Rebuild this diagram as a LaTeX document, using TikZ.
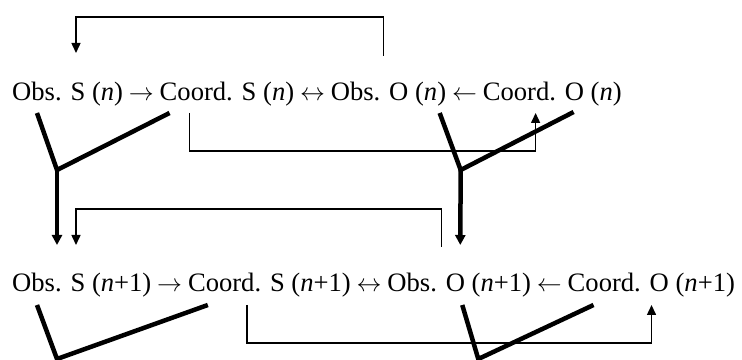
\documentclass[tikz,border=0pt]{standalone}
\usepackage{fontspec}
\setmainfont{Liberation Serif}
\usetikzlibrary{arrows.meta,calc}
\begin{document}
\begin{tikzpicture}[x=1pt,y=1pt,
  term/.style={inner sep=0pt, anchor=base west, font=\fontsize{26.6}{32}\selectfont},
  thinline/.style={line width=1.5pt},
  thickline/.style={line width=4.5pt},
  thinarrow/.style={thinline,-{Triangle[width=9pt,length=10pt]}},
  thickarrow/.style={thickline,-{Triangle[width=10pt,length=10pt]}},
]
\useasboundingbox (0,0) rectangle (742,359);
\clip (0,0) rectangle (742,359);
\def\gap{5.5pt}
% row 1
\node[term] (obsS1) at (12,258) {Obs. S (\textit{n})};
\node[term] (ar11) at ([xshift=\gap]obsS1.base east) {$\rightarrow$};
\node[term] (coordS1) at ([xshift=\gap]ar11.base east) {Coord. S (\textit{n})};
\node[term] (ar12) at ([xshift=\gap]coordS1.base east) {$\leftrightarrow$};
\node[term] (obsO1) at ([xshift=\gap]ar12.base east) {Obs. O (\textit{n})};
\node[term] (ar13) at ([xshift=\gap]obsO1.base east) {$\leftarrow$};
\node[term] (coordO1) at ([xshift=\gap]ar13.base east) {Coord. O (\textit{n})};
% row 2
\node[term] (obsS2) at (12,67) {Obs. S (\textit{n}+1)};
\node[term] (ar21) at ([xshift=\gap]obsS2.base east) {$\rightarrow$};
\node[term] (coordS2) at ([xshift=\gap]ar21.base east) {Coord. S (\textit{n}+1)};
\node[term] (ar22) at ([xshift=\gap]coordS2.base east) {$\leftrightarrow$};
\node[term] (obsO2) at ([xshift=\gap]ar22.base east) {Obs. O (\textit{n}+1)};
\node[term] (ar23) at ([xshift=\gap]obsO2.base east) {$\leftarrow$};
\node[term] (coordO2) at ([xshift=\gap]ar23.base east) {Coord. O (\textit{n}+1)};

% top bracket
\draw[thinarrow] ($(obsO1.base west)+(53,45)$) |- ($(obsS1.base west)+(64,84)$) -- ($(obsS1.base west)+(64,48)$);
% row 1 Y left
\coordinate (j1) at ($(obsS1.base west)+(45,-69)$);
\draw[thickline] ($(obsS1.base west)+(25,-12)$) -- (j1) -- ($(coordS1.base west)+(10,-12)$);
\draw[thickarrow] (j1) -- ($(obsS2.base west)+(45,47)$);
% row 1 thin
\draw[thinarrow] ($(coordS1.base west)+(30,-12)$) |- ($(coordO1.base west)+(53,-50)$) -- ($(coordO1.base west)+(53,-12)$);
% row 1 Y right
\coordinate (j2) at ($(obsO1.base west)+(130,-69)$);
\draw[thickline] ($(obsO1.base west)+(109,-12)$) -- (j2) -- ($(coordO1.base west)+(91,-11)$);
\draw[thickarrow] (j2) -- ($(obsO2.base west)+(73,47)$);
% middle bracket
\draw[thinarrow] ($(obsO2.base west)+(54,45)$) |- ($(obsS2.base west)+(64,83)$) -- ($(obsS2.base west)+(64,47)$);
% row 2 Y left
\coordinate (j3) at ($(obsS2.base west)+(45,-67)$);
\draw[thickline] ($(obsS2.base west)+(25,-13)$) -- (j3) -- ($(coordS2.base west)+(20,-13)$);
% row 2 thin
\draw[thinarrow] ($(coordS2.base west)+(59,-13)$) |- ($(coordO2.base west)+(84,-51)$) -- ($(coordO2.base west)+(84,-13)$);
% row 2 Y right
\coordinate (j4) at ($(obsO2.base west)+(91,-67)$);
\draw[thickline] ($(obsO2.base west)+(75,-13)$) -- (j4) -- ($(coordO2.base west)+(26,-13)$);
\end{tikzpicture}
\end{document}
